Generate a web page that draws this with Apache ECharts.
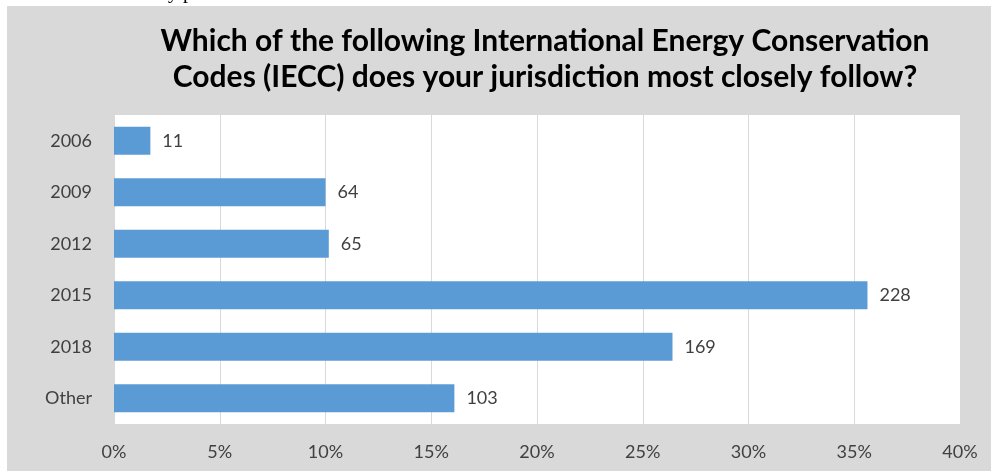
<!DOCTYPE html>
<html>
<head>
<meta charset="utf-8">
<script src="https://cdn.jsdelivr.net/npm/echarts@6/dist/echarts.min.js"></script>
<style>
html,body{margin:0;padding:0;background:#ffffff;}
#chart{width:991px;height:472px;}
</style>
</head>
<body>
<div id="chart"></div>
<script>
const categories = ['2006', '2009', '2012', '2015', '2018', 'Other'];
const counts = [11, 64, 65, 228, 169, 103];
const xTicks = [0, 5, 10, 15, 20, 25, 30, 35, 40];
const titleLines = [
  'Which of the following International Energy Conservation',
  'Codes (IECC) does your jurisdiction most closely follow?'
];

const total = counts.reduce((a, b) => a + b, 0);
const shares = counts.map(c => c / total * 100);

const chart = echarts.init(document.getElementById('chart'), null, {renderer: 'canvas'});
const FONT = 'Lato, "Open Sans", sans-serif';

chart.setOption({
  backgroundColor: '#ffffff',
  animation: false,
  graphic: [
    {type: 'text', x: 158, y: 3, z: -20, style: {text: 'by p', font: '20px "Liberation Serif", serif', fill: '#000', textVerticalAlign: 'bottom'}},
    {type: 'rect', shape: {x: 7, y: 6, width: 984, height: 465}, style: {fill: '#d9d9d9'}, z: -10, silent: true},
    {type: 'text', x: 545, y: 23, style: {
      text: titleLines.join('\n'), font: 'bold 30px ' + FONT, fill: '#000000',
      textAlign: 'center', textVerticalAlign: 'top', lineHeight: 36
    }}
  ],
  grid: {left: 114, right: 31, top: 115, bottom: 48, containLabel: false, show: true, backgroundColor: '#ffffff', borderWidth: 0},
  xAxis: {
    type: 'value', min: xTicks[0], max: xTicks[xTicks.length - 1], interval: 5,
    axisLine: {show: false}, axisTick: {show: false},
    splitLine: {show: true, lineStyle: {color: '#d9d9d9', width: 1}},
    axisLabel: {formatter: '{value}%', fontSize: 18, color: '#404040', fontFamily: FONT, margin: 19}
  },
  yAxis: {
    type: 'category', data: categories, inverse: true,
    axisLine: {show: false}, axisTick: {show: false},
    axisLabel: {fontSize: 18, color: '#404040', fontFamily: FONT, margin: 22}
  },
  series: [{
    type: 'bar',
    data: shares.map((v, i) => ({value: v, count: counts[i]})),
    barWidth: 28,
    itemStyle: {color: '#5b9bd5'},
    label: {
      show: true, position: 'right', distance: 12,
      formatter: p => counts[p.dataIndex],
      fontSize: 18, color: '#404040', fontFamily: FONT
    }
  }]
});
</script>
</body>
</html>
